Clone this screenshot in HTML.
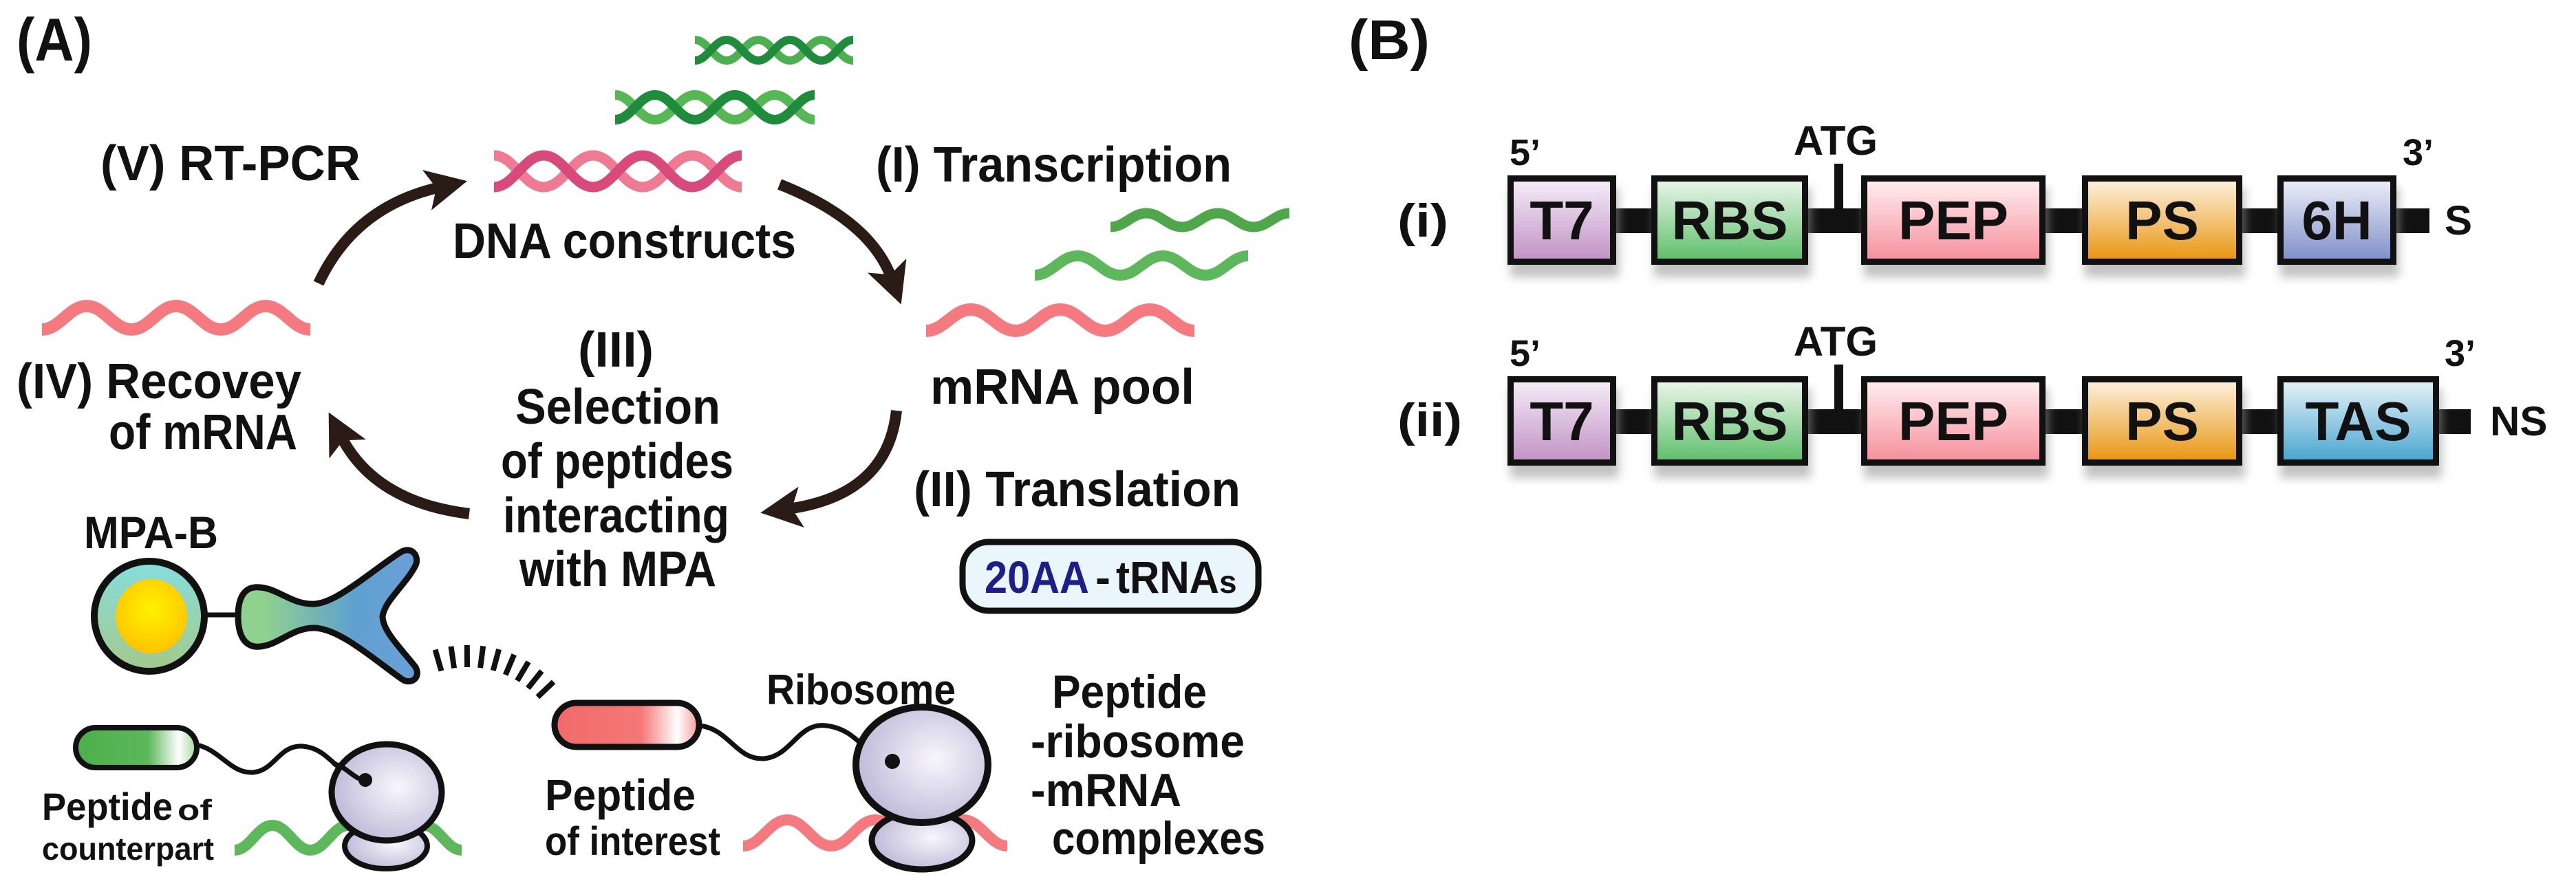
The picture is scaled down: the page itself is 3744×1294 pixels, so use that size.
<!DOCTYPE html>
<html><head><meta charset="utf-8">
<style>
html,body{margin:0;padding:0;background:#fff;}
svg{display:block;}
text{font-family:"Liberation Sans Narrow","Liberation Sans",sans-serif;font-weight:bold;fill:#111;}
.bx{font-family:"Liberation Sans",sans-serif;font-size:80px;}
.bl{font-family:"Liberation Sans",sans-serif;}
</style></head>
<body>
<svg id="s" width="3744" height="1294" viewBox="0 0 3744 1294" xmlns="http://www.w3.org/2000/svg">
<defs>
<marker id="ah" markerUnits="userSpaceOnUse" markerWidth="70" markerHeight="70" refX="20" refY="35" orient="auto">
<path d="M0,5 L60,35 L0,65 L14,35 Z" fill="#2b1b17"/>
</marker>
<radialGradient id="ylw" cx="0.5" cy="0.4" r="0.6"><stop offset="0" stop-color="#fff200"/><stop offset="1" stop-color="#ffc400"/></radialGradient>
<linearGradient id="teal" x1="0" y1="0" x2="0" y2="1"><stop offset="0" stop-color="#86dede"/><stop offset="1" stop-color="#a3c98a"/></linearGradient>
<linearGradient id="ab" x1="0" y1="0" x2="1" y2="0"><stop offset="0.15" stop-color="#8fd18f"/><stop offset="0.65" stop-color="#5fa0d0"/><stop offset="1" stop-color="#6a9fd8"/></linearGradient>
<linearGradient id="gp" x1="0" y1="0" x2="1" y2="0"><stop offset="0" stop-color="#4caf4a"/><stop offset="0.6" stop-color="#5cb85a"/><stop offset="0.85" stop-color="#ffffff"/><stop offset="1" stop-color="#9fd89a"/></linearGradient>
<linearGradient id="rp" x1="0" y1="0" x2="1" y2="0"><stop offset="0" stop-color="#f26a6a"/><stop offset="0.6" stop-color="#f47878"/><stop offset="0.85" stop-color="#ffffff"/><stop offset="1" stop-color="#f59a9a"/></linearGradient>
<radialGradient id="rib" cx="0.6" cy="0.45" r="0.6"><stop offset="0" stop-color="#f8f6fc"/><stop offset="1" stop-color="#bfbad8"/></radialGradient>
<linearGradient id="g1" x1="0" y1="0" x2="0" y2="1"><stop offset="0" stop-color="#f6eef8"/><stop offset="1" stop-color="#c090c4"/></linearGradient>
<linearGradient id="g2" x1="0" y1="0" x2="0" y2="1"><stop offset="0" stop-color="#eef7ee"/><stop offset="1" stop-color="#5cbd68"/></linearGradient>
<linearGradient id="g3" x1="0" y1="0" x2="0" y2="1"><stop offset="0" stop-color="#fff0f2"/><stop offset="1" stop-color="#f58e9a"/></linearGradient>
<linearGradient id="g4" x1="0" y1="0" x2="0" y2="1"><stop offset="0" stop-color="#fdf2e2"/><stop offset="1" stop-color="#e8940c"/></linearGradient>
<linearGradient id="g5" x1="0" y1="0" x2="0" y2="1"><stop offset="0" stop-color="#eef0f8"/><stop offset="1" stop-color="#7d8ec8"/></linearGradient>
<linearGradient id="g6" x1="0" y1="0" x2="0" y2="1"><stop offset="0" stop-color="#eaf3f8"/><stop offset="1" stop-color="#45a4cf"/></linearGradient>
<filter id="sh" x="-10%" y="-10%" width="120%" height="140%"><feGaussianBlur stdDeviation="7"/></filter>
</defs>

<text x="24" y="88" font-size="88" textLength="110" lengthAdjust="spacingAndGlyphs">(A)</text>

<g id="waves" fill="none" stroke-linecap="butt"></g>

<g fill="none" stroke="#2b1b17" stroke-width="16" marker-end="url(#ah)">
<path d="M463,412 Q515,300 640,272"/>
<path d="M1133,268 Q1265,320 1296,405"/>
<path d="M1303,597 Q1290,720 1145,740"/>
<path d="M682,747 Q545,730 496,635"/>
</g>

<text x="146" y="262" font-size="72" textLength="378" lengthAdjust="spacingAndGlyphs">(V) RT-PCR</text>
<text x="658" y="375" font-size="72" textLength="499" lengthAdjust="spacingAndGlyphs">DNA constructs</text>
<text x="1273" y="264" font-size="72" textLength="517" lengthAdjust="spacingAndGlyphs">(I) Transcription</text>
<text x="1352" y="587" font-size="72" textLength="384" lengthAdjust="spacingAndGlyphs">mRNA pool</text>
<text x="24" y="579" font-size="72" textLength="414" lengthAdjust="spacingAndGlyphs">(IV) Recovey</text>
<text x="158" y="653" font-size="72" textLength="274" lengthAdjust="spacingAndGlyphs">of mRNA</text>
<text x="840" y="533" font-size="72" textLength="110" lengthAdjust="spacingAndGlyphs">(III)</text>
<text x="749" y="616" font-size="72" textLength="298" lengthAdjust="spacingAndGlyphs">Selection</text>
<text x="728" y="695" font-size="72" textLength="338" lengthAdjust="spacingAndGlyphs">of peptides</text>
<text x="731" y="774" font-size="72" textLength="329" lengthAdjust="spacingAndGlyphs">interacting</text>
<text x="755" y="852" font-size="72" textLength="286" lengthAdjust="spacingAndGlyphs">with MPA</text>
<text x="1328" y="736" font-size="72" textLength="475" lengthAdjust="spacingAndGlyphs">(II) Translation</text>

<rect x="1399" y="788" width="430" height="100" rx="38" fill="#eaf5fc" stroke="#111" stroke-width="9"/>
<text x="1431" y="862" font-size="66" style="fill:#1e1e8a" textLength="152" lengthAdjust="spacingAndGlyphs">20AA</text>
<text x="1592" y="862" font-size="66">-</text>
<text x="1622" y="862" font-size="66" textLength="150" lengthAdjust="spacingAndGlyphs">tRNA</text>
<text x="1772" y="862" font-size="46">s</text>

<text x="122" y="797" font-size="66" textLength="195" lengthAdjust="spacingAndGlyphs">MPA-B</text>
<line x1="298" y1="894" x2="350" y2="894" stroke="#111" stroke-width="7"/>
<circle cx="217" cy="896" r="80" fill="url(#teal)" stroke="#111" stroke-width="10"/>
<ellipse cx="220" cy="896" rx="52" ry="54" fill="url(#ylw)"/>
<path d="M346,896 C346,862 360,852 378,854 C405,856 425,880 458,878 C490,876 540,830 582,803 C598,793 610,808 604,822 C590,850 560,872 556,896 C556,918 585,945 604,970 C612,985 598,996 585,988 C545,960 495,915 458,913 C425,912 405,938 378,940 C360,942 346,930 346,896 Z" fill="url(#ab)" stroke="#111" stroke-width="9"/>
<g id="hatch" stroke="#111" stroke-width="8"></g>

<path id="gm" fill="none" stroke="#5cb85a" stroke-width="16"/>
<path d="M286,1083 C320,1090 335,1125 368,1123 C400,1120 405,1083 440,1085 C480,1088 490,1130 530,1134" fill="none" stroke="#111" stroke-width="7"/>
<ellipse cx="561" cy="1230" rx="60" ry="33" fill="url(#rib)" stroke="#111" stroke-width="8"/>
<ellipse cx="562" cy="1152" rx="80" ry="70" fill="url(#rib)" stroke="#111" stroke-width="9"/>
<path d="M484,1110 C505,1115 515,1134 531,1134" fill="none" stroke="#111" stroke-width="7"/>
<circle cx="531" cy="1134" r="10" fill="#111"/>
<rect x="110" y="1058" width="176" height="58" rx="29" fill="url(#gp)" stroke="#111" stroke-width="8"/>
<text x="61" y="1192" font-size="56" textLength="190" lengthAdjust="spacingAndGlyphs">Peptide</text>
<text x="258" y="1192" font-size="42" textLength="50" lengthAdjust="spacingAndGlyphs">of</text>
<text x="61" y="1250" font-size="46" textLength="250" lengthAdjust="spacingAndGlyphs">counterpart</text>

<path id="pm" fill="none" stroke="#f47a80" stroke-width="16"/>
<path d="M1017,1055 C1060,1060 1070,1105 1110,1103 C1150,1100 1160,1050 1200,1055 C1250,1060 1260,1107 1297,1107" fill="none" stroke="#111" stroke-width="7"/>
<ellipse cx="1340" cy="1222" rx="73" ry="42" fill="url(#rib)" stroke="#111" stroke-width="9"/>
<ellipse cx="1340" cy="1112" rx="96" ry="84" fill="url(#rib)" stroke="#111" stroke-width="10"/>
<circle cx="1297" cy="1107" r="11" fill="#111"/>
<rect x="806" y="1022" width="210" height="64" rx="32" fill="url(#rp)" stroke="#111" stroke-width="9"/>
<text x="1114" y="1024" font-size="62" textLength="275" lengthAdjust="spacingAndGlyphs">Ribosome</text>
<text x="792" y="1178" font-size="64" textLength="219" lengthAdjust="spacingAndGlyphs">Peptide</text>
<text x="792" y="1243" font-size="58" textLength="255" lengthAdjust="spacingAndGlyphs">of interest</text>
<text x="1529" y="1029" font-size="68" textLength="225" lengthAdjust="spacingAndGlyphs">Peptide</text>
<text x="1498" y="1101" font-size="68" textLength="311" lengthAdjust="spacingAndGlyphs">-ribosome</text>
<text x="1498" y="1172" font-size="68" textLength="219" lengthAdjust="spacingAndGlyphs">-mRNA</text>
<text x="1529" y="1242" font-size="68" textLength="310" lengthAdjust="spacingAndGlyphs">complexes</text>

<text x="1960" y="86" font-size="82" class="bl" textLength="118" lengthAdjust="spacingAndGlyphs">(B)</text>
<text x="2031" y="344" font-size="68" class="bl" textLength="74" lengthAdjust="spacingAndGlyphs">(i)</text>
<text x="2031" y="634" font-size="68" class="bl" textLength="94" lengthAdjust="spacingAndGlyphs">(ii)</text>
<g id="rows"></g>
</svg>
<script>
var NS="http://www.w3.org/2000/svg";
function wave(x0,yt,yb,h,n,startLow){
  var a=h*0.4, y0=startLow?yb:yt, y1=startLow?yt:yb;
  var d="M"+x0+","+y0+" C"+(x0+a)+","+y0+" "+(x0+h-a)+","+y1+" "+(x0+h)+","+y1;
  for(var i=2;i<=n;i++){var yy=(i%2==0)?y0:y1;var x=x0+i*h;d+=" S"+(x-a)+","+yy+" "+x+","+yy;}
  return d;
}
function P(parent,d,col,w){var p=document.createElementNS(NS,"path");p.setAttribute("d",d);p.setAttribute("fill","none");p.setAttribute("stroke",col);p.setAttribute("stroke-width",w);parent.appendChild(p);}
var W=document.getElementById("waves");
P(W,wave(61,445,479,65,6,true),"#f47a80",18);
P(W,wave(1346,450,481,65,6,true),"#f47a80",18);
P(W,wave(1614,310,330,52,5,true),"#4ea84a",15);
P(W,wave(1504,372,400,62,5,true),"#5cb85a",16);
P(W,wave(718,226,272,72,5,false),"#f07a92",15);
P(W,wave(718,226,272,72,5,true),"#d84a7a",15);
P(W,wave(1010,58,88,46,5,false),"#4cb050",12);
P(W,wave(1010,58,88,46,5,true),"#1e8c3a",12);
P(W,wave(894,138,174,58,5,false),"#55b855",14);
P(W,wave(894,138,174,58,5,true),"#1e8c3a",14);
document.getElementById("gm").setAttribute("d",wave(341,1200,1236,55,6,true));
document.getElementById("pm").setAttribute("d",wave(1080,1192,1230,64,6,true));
var H=document.getElementById("hatch");
for(var i=0;i<9;i++){var ang=(-106+i*7.8)*Math.PI/180;var cx=680,cy=1110;
 var l=document.createElementNS(NS,"line");
 l.setAttribute("x1",cx+140*Math.cos(ang));l.setAttribute("y1",cy+140*Math.sin(ang));
 l.setAttribute("x2",cx+172*Math.cos(ang));l.setAttribute("y2",cy+172*Math.sin(ang));H.appendChild(l);}
var R=document.getElementById("rows");
function row(y0,last,lastG,barEnd,endLbl,endX,q3x){
  var s='';
  var top=y0, h=130;
  s+='<rect x="2191" y="'+(top+48)+'" width="'+(barEnd-2191)+'" height="36" fill="#111"/>';
  s+='<rect x="2666" y="'+(top-17)+'" width="13" height="70" fill="#111"/>';
  var boxes=[[2191,2349,"g1","T7"],[2400,2628,"g2","RBS"],[2705,2973,"g3","PEP"],[3026,3259,"g4","PS"],[3310,last,lastG,endLbl[0]]];
  boxes.forEach(function(b){
    s+='<rect x="'+(b[0]+4)+'" y="'+(top+18)+'" width="'+(b[1]-b[0])+'" height="'+h+'" fill="#999" opacity="0.6" filter="url(#sh)"/>';
  });
  boxes.forEach(function(b){
    s+='<rect x="'+(b[0]+4.5)+'" y="'+(top+4.5)+'" width="'+(b[1]-b[0]-9)+'" height="'+(h-9)+'" fill="url(#'+b[2]+')" stroke="#111" stroke-width="9"/>';
    s+='<text class="bx" x="'+((b[0]+b[1])/2)+'" y="'+(top+93)+'" text-anchor="middle">'+b[3]+'</text>';
  });
  s+='<text class="bl" x="2668" y="'+(top-30)+'" font-size="60" text-anchor="middle">ATG</text>';
  s+='<text class="bl" x="2194" y="'+(top-15)+'" font-size="54">5’</text>';
  s+='<text class="bl" x="'+q3x+'" y="'+(top-15)+'" font-size="54">3’</text>';
  s+='<text class="bl" x="'+endX+'" y="'+(top+86)+'" font-size="60">'+endLbl[1]+'</text>';
  return s;
}
R.innerHTML=row(255,3483,"g5",3531,["6H","S"],3553,3492)+row(547,3545,"g6",3591,["TAS","NS"],3619,3553);
</script>
</body></html>
